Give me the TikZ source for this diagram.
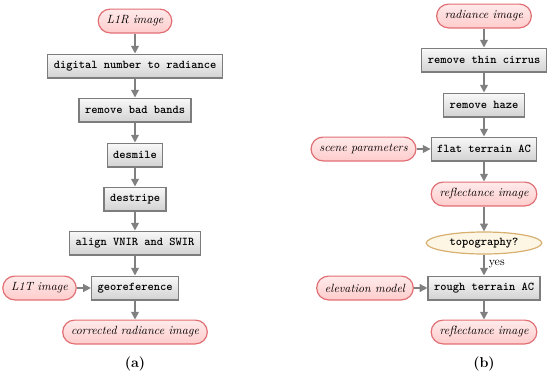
\documentclass[tikz,border=0pt]{standalone}
\usepackage{amsmath}
\usepackage{tikz}
\usetikzlibrary{arrows.meta,shapes.geometric}

\definecolor{termline}{RGB}{225,110,115}
\definecolor{procline}{RGB}{125,125,125}
\definecolor{decline}{RGB}{215,175,110}
\definecolor{decfill}{RGB}{253,246,228}

\tikzset{
  procbox/.style={draw=procline, line width=1pt, top color=gray!5, bottom color=gray!35,
    minimum height=20pt, inner xsep=5pt, font=\ttfamily\bfseries},
  termbox/.style={draw=termline, line width=1pt, top color=red!8, bottom color=red!20,
    rounded corners=10pt, minimum height=20pt, inner xsep=7pt, font=\itshape},
  decbox/.style={ellipse, draw=decline, line width=1pt, fill=decfill,
    minimum width=97pt, minimum height=18.5pt, inner sep=0pt, font=\ttfamily\bfseries},
  flowarrow/.style={draw=gray, line width=1.3pt, -{Triangle[length=6.5pt,width=6.5pt]}},
  captext/.style={font=\large\bfseries},
}

\begin{document}
\begin{tikzpicture}[x=0.84pt, y=-0.84pt]
  \useasboundingbox (0,0) rectangle (550,376);
  % (a)
  \node[termbox] (l1r) at (135,21) {L1R image};
  \node[procbox] (dn) at (135,66) {digital number to radiance};
  \node[procbox] (badbands) at (135,110) {remove bad bands};
  \node[procbox] (desmile) at (135,155) {desmile};
  \node[procbox] (destripe) at (135,199) {destripe};
  \node[procbox] (align) at (135,243) {align VNIR and SWIR};
  \node[procbox] (georef) at (135,288) {georeference};
  \node[termbox] (l1t) at (39.5,288) {L1T image};
  \node[termbox] (corrected) at (135,332) {corrected radiance image};
  \node[captext] (capa) at (135,364) {(a)};
  \draw[flowarrow] (l1r) -- (dn);
  \draw[flowarrow] (dn) -- (badbands);
  \draw[flowarrow] (badbands) -- (desmile);
  \draw[flowarrow] (desmile) -- (destripe);
  \draw[flowarrow] (destripe) -- (align);
  \draw[flowarrow] (align) -- (georef);
  \draw[flowarrow] (l1t) -- (georef);
  \draw[flowarrow] (georef) -- (corrected);
  % (b)
  \node[termbox] (rad) at (484,16) {radiance image};
  \node[procbox] (cirrus) at (484,60) {remove thin cirrus};
  \node[procbox] (haze) at (484,105) {remove haze};
  \node[procbox] (flat) at (484,149) {flat terrain AC};
  \node[termbox] (scene) at (363.5,149) {scene parameters};
  \node[termbox] (refl) at (484,194) {reflectance image};
  \node[decbox] (topo) at (484,243) {topography?};
  \node[procbox] (rough) at (484,288) {rough terrain AC};
  \node[termbox] (elev) at (365,288) {elevation model};
  \node[termbox] (reflout) at (484,332) {reflectance image};
  \node[captext] (capb) at (484,364) {(b)};
  \draw[flowarrow] (rad) -- (cirrus);
  \draw[flowarrow] (cirrus) -- (haze);
  \draw[flowarrow] (haze) -- (flat);
  \draw[flowarrow] (scene) -- (flat);
  \draw[flowarrow] (flat) -- (refl);
  \draw[flowarrow] (refl) -- (topo);
  \draw[flowarrow] (topo) -- node[right, pos=0.45] {yes} (rough);
  \draw[flowarrow] (elev) -- (rough);
  \draw[flowarrow] (rough) -- (reflout);
\end{tikzpicture}
\end{document}
